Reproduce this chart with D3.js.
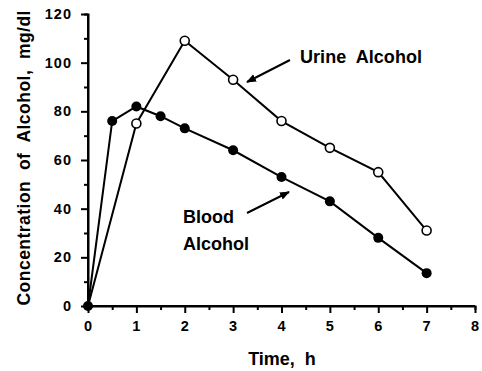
<!DOCTYPE html>
<html>
<head>
<meta charset="utf-8">
<script src="https://cdn.jsdelivr.net/npm/d3@7"></script>
<style>
  html, body { margin: 0; padding: 0; background: #fff; }
  svg { display: block; }
  text { font-family: "Liberation Sans", Arial, Helvetica, sans-serif; font-weight: bold; fill: #000; white-space: pre; }
</style>
</head>
<body>
<svg id="chart" width="482" height="371"></svg>
<script>
// Time points (hours) and alcohol concentrations (mg/dl)
const bloodTime  = [0, 0.5, 1, 1.5, 2, 3, 4, 5, 6, 7];
const bloodConc  = [0, 76, 82, 78, 73, 64, 53, 43, 28, 13.5];
const urineTime  = [0, 1, 2, 3, 4, 5, 6, 7];
const urineConc  = [0, 75, 109, 93, 76, 65, 55, 31];

const xTicks = [0, 1, 2, 3, 4, 5, 6, 7, 8];
const xMinorTicks = [0.5, 1.5, 2.5, 3.5, 4.5, 5.5, 6.5, 7.5];
const yTicks = [0, 20, 40, 60, 80, 100, 120];
const yMinorTicks = [10, 30, 50, 70, 90, 110];

const xLabel = "Time,  h";
const yLabel = "Concentration  of  Alcohol,  mg/dl";
const urineLabel = "Urine  Alcohol";
const bloodLabel = ["Blood", "Alcohol"];

const svg = d3.select("#chart");

const x = d3.scaleLinear().domain([0, 8]).range([88, 475]);
const y = d3.scaleLinear().domain([0, 120]).range([306, 14]);

// Axes
const xAxis = d3.axisBottom(x).tickValues(xTicks).tickSize(7).tickPadding(8).tickFormat(d3.format("d"));
const xMinor = d3.axisBottom(x).tickValues(xMinorTicks).tickSize(4).tickFormat("");
const yAxis = d3.axisLeft(y).tickValues(yTicks).tickSize(7).tickPadding(9).tickFormat(d3.format("d"));
const yMinor = d3.axisLeft(y).tickValues(yMinorTicks).tickSize(4).tickFormat("");

function styleAxis(g) {
  g.select(".domain").attr("stroke", "#000").attr("stroke-width", 2);
  g.selectAll(".tick line").attr("stroke", "#000").attr("stroke-width", 2);
  g.selectAll(".tick text").style("font-size", "14.5px").style("font-family", "Liberation Sans, Arial, sans-serif")
    .style("font-weight", "bold").attr("fill", "#000").attr("letter-spacing", "1px");
}

svg.append("g").attr("transform", `translate(0,${y(0)})`).call(xMinor).call(styleAxis);
svg.append("g").attr("transform", `translate(0,${y(0)})`).call(xAxis).call(styleAxis)
  .selectAll(".domain").attr("d", `M${x(0)},0H${x(8)}`);
svg.append("g").attr("transform", `translate(${x(0)},0)`).call(yMinor).call(styleAxis);
svg.append("g").attr("transform", `translate(${x(0)},0)`).call(yAxis).call(styleAxis)
  .selectAll(".domain").attr("d", `M0,${y(0)}V${y(120)}`);

// Axis titles
svg.append("text")
  .attr("x", 282)
  .attr("y", 365)
  .attr("text-anchor", "middle")
  .style("font-size", "18px")
  .text(xLabel);

svg.append("text")
  .attr("transform", "translate(30,158) rotate(-90)")
  .attr("text-anchor", "middle")
  .attr("textLength", 295)
  .attr("lengthAdjust", "spacing")
  .style("font-size", "17.5px")
  .text(yLabel);

// Series lines
const line = d3.line().x(d => x(d[0])).y(d => y(d[1]));
const blood = bloodTime.map((t, i) => [t, bloodConc[i]]);
const urine = urineTime.map((t, i) => [t, urineConc[i]]);

svg.append("path").datum(urine).attr("d", line)
  .attr("fill", "none").attr("stroke", "#000").attr("stroke-width", 2);
svg.append("path").datum(blood).attr("d", line)
  .attr("fill", "none").attr("stroke", "#000").attr("stroke-width", 2);

// Markers: open circles for urine, filled for blood
svg.append("g").selectAll("circle").data(urine.slice(1)).join("circle")
  .attr("cx", d => x(d[0])).attr("cy", d => y(d[1])).attr("r", 4.5)
  .attr("fill", "#fff").attr("stroke", "#000").attr("stroke-width", 1.6);
svg.append("g").selectAll("circle").data(blood).join("circle")
  .attr("cx", d => x(d[0])).attr("cy", d => y(d[1])).attr("r", 5)
  .attr("fill", "#000");

// Annotation arrows
svg.append("defs").append("marker")
  .attr("id", "head").attr("viewBox", "0 0 10 10").attr("refX", 9).attr("refY", 5)
  .attr("markerWidth", 10).attr("markerHeight", 10).attr("markerUnits", "userSpaceOnUse")
  .attr("orient", "auto")
  .append("path").attr("d", "M0,1L10,5L0,9Z").attr("fill", "#000");

svg.append("line").attr("x1", 290).attr("y1", 60).attr("x2", 247).attr("y2", 82)
  .attr("stroke", "#000").attr("stroke-width", 2).attr("marker-end", "url(#head)");
svg.append("line").attr("x1", 247).attr("y1", 213).attr("x2", 289).attr("y2", 192)
  .attr("stroke", "#000").attr("stroke-width", 2).attr("marker-end", "url(#head)");

// Series labels
svg.append("text").attr("x", 300).attr("y", 63).attr("textLength", 122).attr("lengthAdjust", "spacing")
  .style("font-size", "18px").text(urineLabel);
svg.append("text").attr("x", 183).attr("y", 223).style("font-size", "18px").text(bloodLabel[0]);
svg.append("text").attr("x", 183).attr("y", 250).style("font-size", "18px").text(bloodLabel[1]);
</script>
</body>
</html>
